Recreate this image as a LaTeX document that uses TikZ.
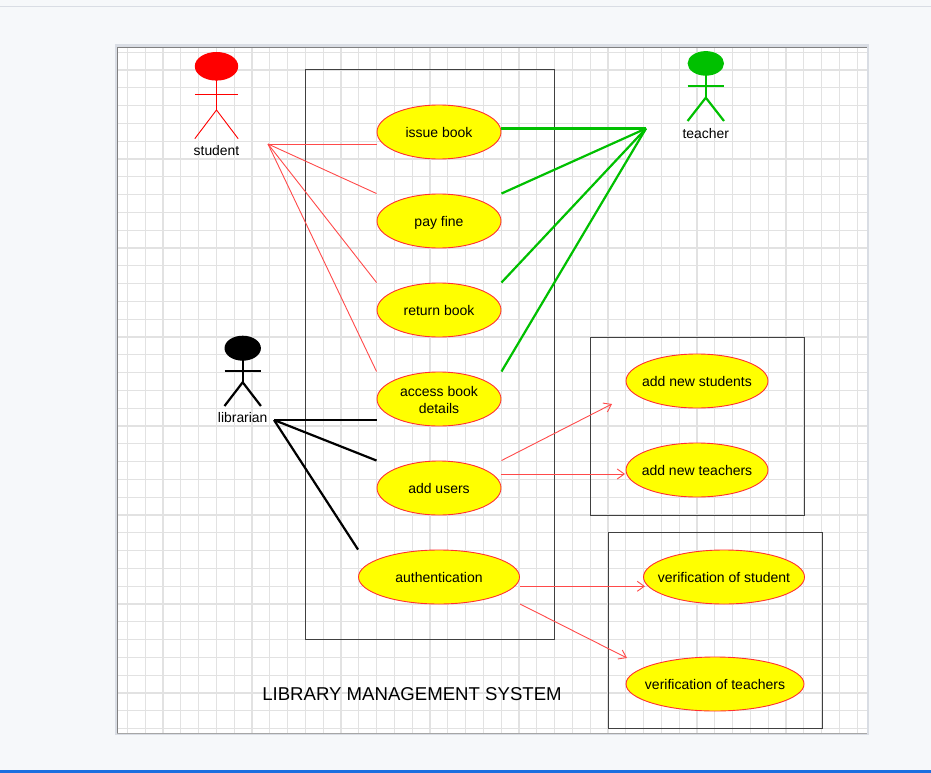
\documentclass[tikz,border=0pt]{standalone}
\usepackage{xcolor}
\usepackage{fontspec}
\setmainfont{Liberation Sans}
\usetikzlibrary{arrows.meta,shapes.geometric}
\definecolor{pagebg}{HTML}{F6F8FA}
\definecolor{gridcol}{HTML}{E2E2E2}
\definecolor{tealgreen}{HTML}{00C000}
\definecolor{rimcol}{HTML}{D9DDE4}
\definecolor{linered}{HTML}{FF4A4A}
\definecolor{casefill}{HTML}{FFFF00}
\definecolor{caserim}{HTML}{FF3030}
\definecolor{barblue}{HTML}{1B6FE0}
\tikzset{
  usecase/.style={ellipse,draw=caserim,fill=casefill,line width=0.9pt,inner ysep=0pt,inner xsep=-40pt,
    minimum height=54pt,font=\fontsize{14}{17}\selectfont,align=center,text height=11.5pt,text depth=0pt},
  actorname/.style={font=\fontsize{13.9}{15}\selectfont,inner sep=0pt,text height=11pt,text depth=0pt},
  sysbox/.style={draw=black!75,line width=1pt},
  redlink/.style={draw=linered,line width=0.9pt},
  greenlink/.style={draw=tealgreen,line width=2.2pt},
  blacklink/.style={draw=black,line width=2.2pt},
  redarrow/.style={redlink,-{Straight Barb[length=7pt,width=10pt]}},
}
\begin{document}
\begin{tikzpicture}[x=1pt,y=-1pt]
\useasboundingbox (0,0) rectangle (931,773);
\fill[pagebg] (0,0) rectangle (931,773);
\draw[rimcol,line width=1pt] (0,6.5) -- (931,6.5);
\fill[barblue] (0,770) rectangle (931,773);

% sheet and its grid
\fill[rimcol] (114.5,44.5) rectangle (869,735);
\fill[white] (117,48) rectangle (866.5,733);
\foreach \i in {0,...,41} {
\draw[gridcol,line width=1.3pt] (127.4+17.8*\i,48) -- (127.4+17.8*\i,733); }
\foreach \i in {0,...,38} {
\draw[gridcol,line width=1.3pt] (117,52.2+17.8*\i) -- (866.5,52.2+17.8*\i); }
\draw[black!50,line width=1pt] (117,733) -- (117,47.5) -- (866.5,47.5);
\draw[black!35,line width=1pt] (117,733.5) -- (866.5,733.5);

% system boxes
\draw[sysbox] (305.5,69.5) rectangle (554.5,639.5);
\draw[sysbox] (590.5,337) rectangle (804.5,515);
\draw[sysbox] (608.5,532.5) rectangle (822,728.5);

% use cases
\node[usecase,minimum width=124pt] (issue) at (439,132) {issue book};
\node[usecase,minimum width=124pt] (fine) at (439,221) {pay fine};
\node[usecase,minimum width=124pt] (return) at (439,310) {return book};
\node[usecase,minimum width=124pt,text height=29.5pt] (access) at (439,399) {access book\\details};
\node[usecase,minimum width=124pt] (users) at (439,488) {add users};
\node[usecase,minimum width=161pt] (auth) at (439,577) {authentication};
\node[usecase,minimum width=142pt] (newstud) at (697,381) {add new students};
\node[usecase,minimum width=142pt] (newteach) at (697,470) {add new teachers};
\node[usecase,minimum width=161pt] (verstud) at (724,577) {verification of student};
\node[usecase,minimum width=178pt] (verteach) at (715,684) {verification of teachers};

% actors
\foreach \n/\x/\yh/\rx/\ry/\ya/\yb/\yf/\yl/\c/\w in {
  student/216.5/66.3/21.7/14.3/94.3/110/138.7/150/red/0.9,
  librarian/242.7/348.2/18.2/12.5/370.7/382.3/406/417/black/2.2,
  teacher/705.8/63.4/18.2/12.3/86/97.7/121/133/tealgreen/2.2} {
\fill[\c] (\x,\yh) ellipse ({\rx} and {\ry});
\draw[\c,line width=\w pt] (\x,\yh) -- (\x,\yb);
\draw[\c,line width=\w pt] (\x-\rx,\ya) -- (\x+\rx,\ya);
\draw[\c,line width=\w pt] (\x-\rx,\yf) -- (\x,\yb) -- (\x+\rx,\yf);
\node[actorname] (\n) at (\x,\yl) {\n};
}

\coordinate (studentend) at (268,144);
\coordinate (teacherend) at (646,128.5);
\coordinate (librarianend) at (274,420);

% student links
\draw[redlink] (studentend) -- (issue.west |- studentend);
\draw[redlink] (studentend) -- (fine.west |- fine.north);
\draw[redlink] (studentend) -- (return.west |- return.north);
\draw[redlink] (studentend) -- (access.west |- access.north);

% teacher links
\draw[greenlink] (teacherend) -- (issue.east |- teacherend);
\draw[greenlink] (teacherend) -- (fine.east |- fine.north);
\draw[greenlink] (teacherend) -- (return.east |- return.north);
\draw[greenlink] (teacherend) -- (access.east |- access.north);

% librarian links
\draw[blacklink] (librarianend) -- (access.west |- librarianend);
\draw[blacklink] (librarianend) -- (users.west |- users.north);
\draw[blacklink] (librarianend) -- (auth.west |- auth.north);

% sub cases
\coordinate (newstudend) at (612,404);
\coordinate (newteachend) at (625,474);
\coordinate (verstudend) at (645,586.3);
\coordinate (verteachend) at (627,658);
\coordinate (authlow) at (520,604);
\draw[redarrow] (users.east |- users.north) -- (newstudend);
\draw[redarrow] (users.east |- newteachend) -- (newteachend);
\draw[redarrow] (auth.east |- verstudend) -- (verstudend);
\draw[redarrow] (authlow) -- (verteachend);

\node[font=\fontsize{18.6}{20}\selectfont,inner sep=0pt] (title) at (412,693.7) {LIBRARY MANAGEMENT SYSTEM};
\end{tikzpicture}
\end{document}
